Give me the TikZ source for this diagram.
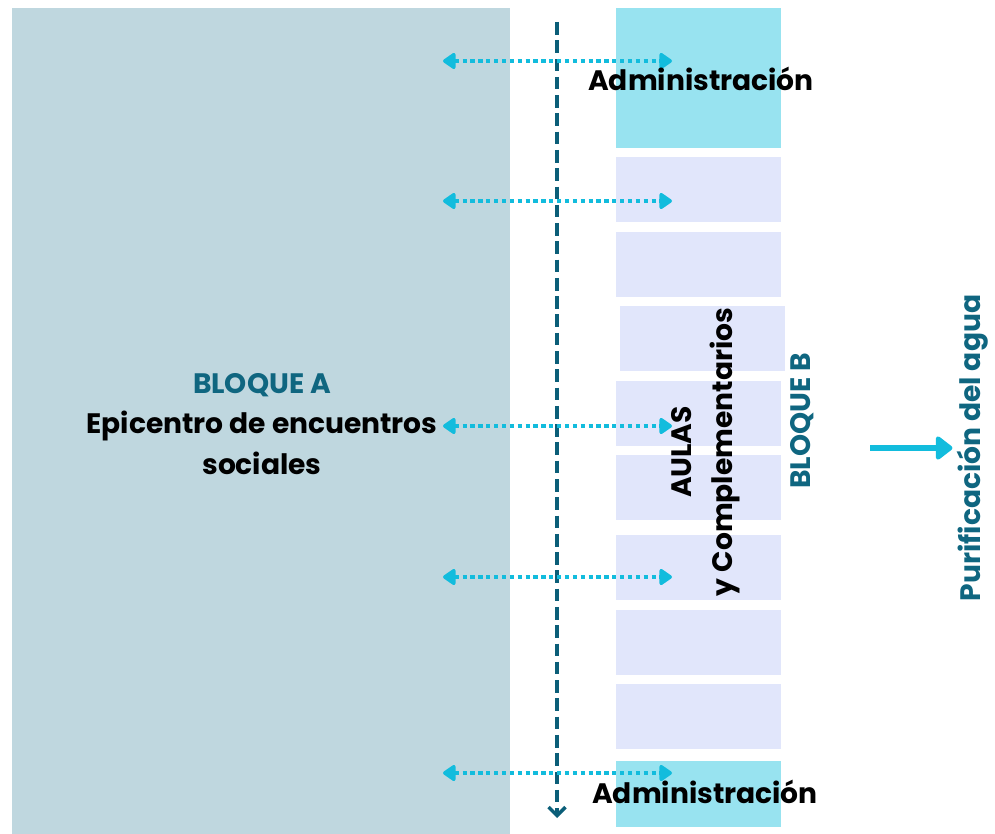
\documentclass[tikz,border=0pt]{standalone}
\usepackage{fontspec}
\setmainfont{Poppins}
\usetikzlibrary{arrows.meta, positioning}
\definecolor{bloqueA}{HTML}{BFD7DF}
\definecolor{adminC}{HTML}{98E3F0}
\definecolor{aulaC}{HTML}{E1E6FB}
\definecolor{tealT}{HTML}{0F6680}
\definecolor{cianC}{HTML}{12BCDD}
\definecolor{pasilloC}{HTML}{0B5E78}
\tikzset{
    sala/.style={fill=aulaC},
    admin/.style={fill=adminC},
    enlace/.style={cianC, line width=3.3pt, dash pattern=on 3pt off 2.6pt,
        {Triangle[length=10pt, width=13pt, round]}-{Triangle[length=10pt, width=13pt, round]}},
    pasillo/.style={pasilloC, line width=2.6pt, dash pattern=on 9pt off 4pt,
        -{Straight Barb[length=6pt, width=12pt, line width=2.4pt]}},
    texto/.style={font=\bfseries\fontsize{20}{29}\selectfont, align=center},
    rotulo/.style={texto, text=tealT, rotate=90},
}
\begin{document}
\begin{tikzpicture}[x=0.025cm, y=-0.025cm]
    \useasboundingbox (0,0) rectangle (995,834);
    % bloque A
    \fill[bloqueA] (12,8) rectangle (510,834);
    % bloque B
    \fill[admin] (616,8) rectangle (781,148);
    \foreach \ya/\yb in {157/222, 232/297, 381/446, 455/520, 535/600, 610/675, 684/749}
        \fill[sala] (616,\ya) rectangle (781,\yb);
    \fill[sala] (620,306) rectangle (785,371);
    \fill[admin] (616,761) rectangle (781,827);
    % pasillo
    \coordinate (pasilloArriba) at (557,22);
    \coordinate (pasilloAbajo) at (557,818);
    \draw[pasillo] (pasilloArriba) -- (pasilloAbajo);
    % conexiones
    \foreach \y [count=\i] in {61,201,426,577,773}{
        \coordinate (izq\i) at (443,\y);
        \coordinate (der\i) at (672,\y);
        \draw[enlace] (izq\i) -- (der\i);
    }
    % textos
    \node[texto] (adminArriba) at (701,79) {Administración};
    \node[texto] (adminAbajo) at (705,792) {Administración};
    \node[texto] (bloqueA) at (262,424) {\textcolor{tealT}{BLOQUE A}\\Epicentro de encuentros\\sociales};
    \node[texto, rotate=90] (aulas) at (706,452) {AULAS\\y Complementarios};
    \node[rotulo] (bloqueB) at (802,421) {BLOQUE B};
    \node[rotulo] (agua) at (973,448) {Purificación del agua};
    \coordinate (flechaIni) at (870,448);
    \draw[cianC, line width=4.3pt, -{Triangle[length=13pt, width=19pt, round]}] (flechaIni) -- (agua.north);
\end{tikzpicture}
\end{document}
